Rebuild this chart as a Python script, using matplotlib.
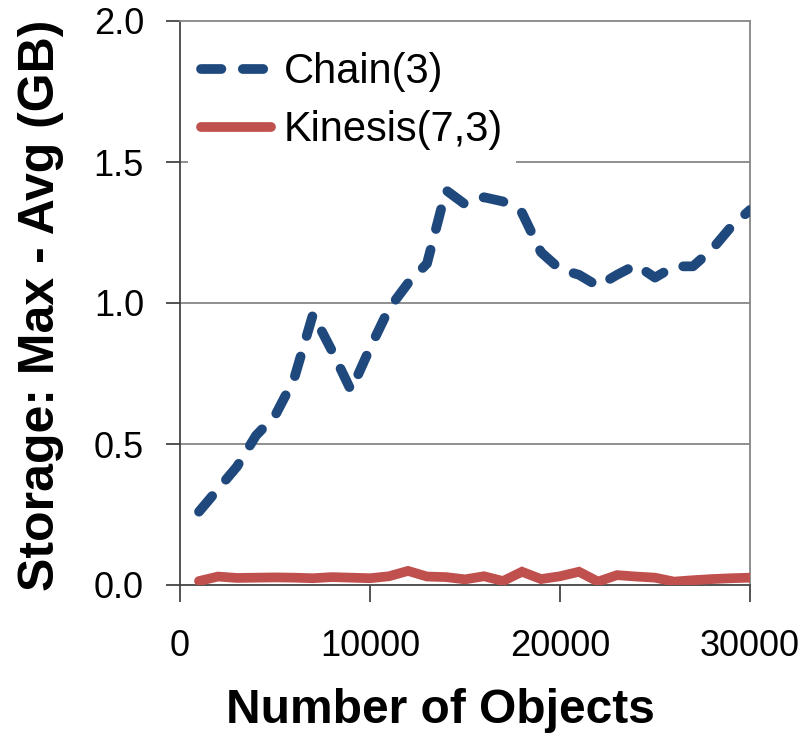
import matplotlib
matplotlib.use("Agg")
import matplotlib.pyplot as plt
from matplotlib.ticker import FormatStrFormatter

objects = [1000, 2000, 3000, 4000, 5000, 6000, 7000, 8000, 9000, 10000,
           11000, 12000, 13000, 14000, 15000, 16000, 17000, 18000, 19000, 20000,
           21000, 22000, 23000, 24000, 25000, 26000, 27000, 28000, 29000, 30000]
chain = [0.26, 0.34, 0.42, 0.53, 0.60, 0.73, 0.96, 0.83, 0.69, 0.84,
         0.98, 1.07, 1.14, 1.40, 1.35, 1.375, 1.36, 1.32, 1.18, 1.12,
         1.10, 1.06, 1.10, 1.135, 1.09, 1.13, 1.13, 1.19, 1.27, 1.33]
kinesis = [0.014, 0.03, 0.025, 0.026, 0.027, 0.026, 0.024, 0.028, 0.026, 0.024,
           0.031, 0.05, 0.03, 0.028, 0.02, 0.031, 0.014, 0.047, 0.021, 0.031,
           0.047, 0.012, 0.035, 0.03, 0.026, 0.012, 0.017, 0.021, 0.024, 0.026]
xticks = [0, 10000, 20000, 30000]
yticks = [0.0, 0.5, 1.0, 1.5, 2.0]

fig = plt.figure(figsize=(8.06, 7.35), dpi=100)
ax = fig.add_axes([180/806, 1-585/735, 570/806, 564/735])

grid_c = "#868686"
for yv in yticks[1:-1]:
    ax.axhline(yv, color=grid_c, lw=1.3, zorder=1)

ax.plot(objects, chain, color="#1F497D", lw=7, dashes=(2.1, 2.2),
        dash_capstyle="round", solid_capstyle="round", label="Chain(3)", zorder=3)
ax.plot(objects, kinesis, color="#C0504D", lw=7, solid_capstyle="round",
        solid_joinstyle="miter", label="Kinesis(7,3)", zorder=3)

ax.set_xlim(0, 30000)
ax.set_ylim(0, 2.0)
ax.set_xticks(xticks)
ax.set_yticks(yticks)
ax.yaxis.set_major_formatter(FormatStrFormatter("%.1f"))

for s in ["top", "right"]:
    ax.spines[s].set_color(grid_c)
    ax.spines[s].set_linewidth(1.3)
for s in ["left", "bottom"]:
    ax.spines[s].set_color("#444444")
    ax.spines[s].set_linewidth(1.3)

ax.tick_params(axis="y", direction="out", length=10, width=1.3, color="#444444", pad=16)
ax.tick_params(axis="x", direction="out", length=12, width=1.3, color="#444444", pad=20)
for lab in ax.get_xticklabels() + ax.get_yticklabels():
    lab.set_fontfamily("Liberation Sans")
    lab.set_fontsize(26)

ax.set_xlabel("Number of Objects", fontsize=34.5, fontweight="bold",
              family="Liberation Sans")
ax.set_ylabel("Storage: Max - Avg (GB)", fontsize=36, fontweight="bold",
              family="Liberation Sans")
ax.xaxis.set_label_coords((440 - 180) / 570, (585 - 688) / 564)
ax.yaxis.set_label_coords((64 - 180) / 570, (585 - 305) / 564)

leg = ax.legend(loc="upper left", bbox_to_anchor=(8 / 570, (585 - 40) / 564),
                frameon=True, prop={"family": "Liberation Sans", "size": 30},
                handlelength=1.7, handletextpad=0.3, labelspacing=0.43,
                borderpad=0.3, borderaxespad=0.0, fancybox=False)
leg.get_frame().set_edgecolor("white")
leg.get_frame().set_facecolor("white")
leg.get_frame().set_alpha(1.0)
leg.get_frame().set_linewidth(0)
leg.set_zorder(2)

fig.savefig("out.png", dpi=100)
